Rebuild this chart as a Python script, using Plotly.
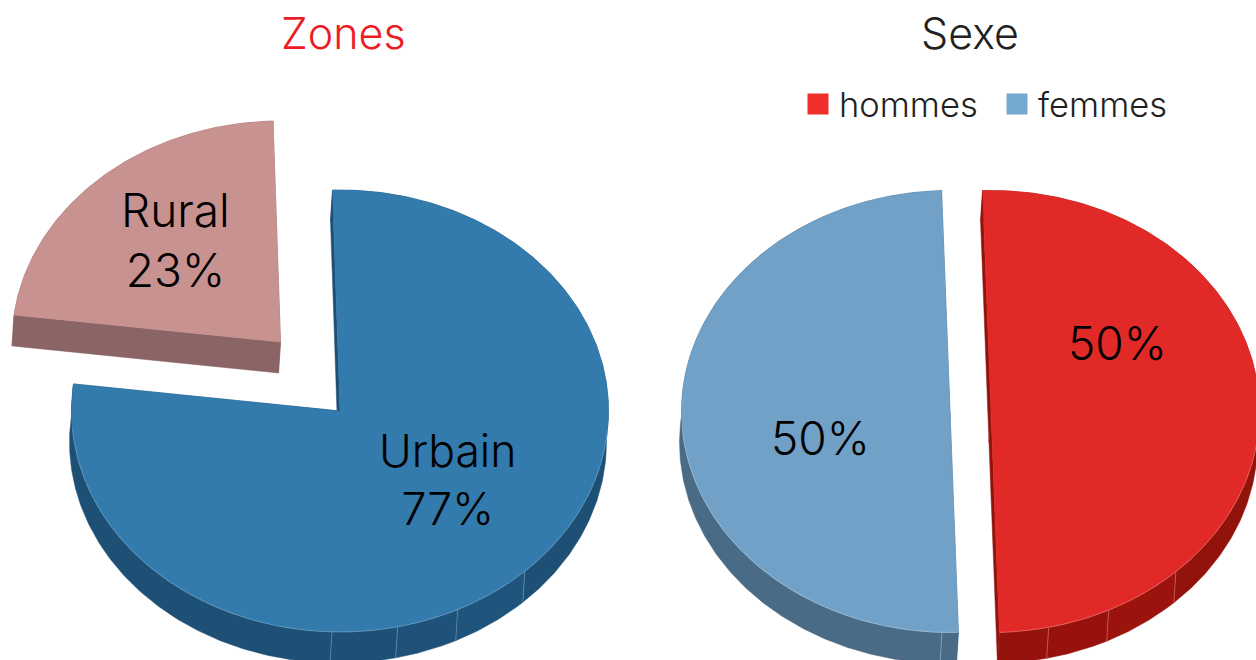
import math
import plotly.graph_objects as go

# ---- data (slice angles give 77.4 / 22.6, printed rounded)
zones_labels = ["Urbain", "Rural"]
zones_values = [77.4, 22.6]
sexe_labels = ["femmes", "hommes"]
sexe_values = [50, 50]
legend_labels = ["hommes", "femmes"]

# ---- drawing style
FONT = "Inter"
TOP = {"Urbain": "#337AAD", "Rural": "#C89290", "femmes": "#71A1C6", "hommes": "#E12A28"}
WALL = {"Urbain": "#1E4F75", "Rural": "#8B6565", "femmes": "#4A6B85", "hommes": "#92120C"}
RIM = {"Urbain": "#7FAED0", "Rural": "#D9B8B6", "femmes": "#B5CFE3", "hommes": "#EE8A88"}
LEGEND_COLORS = {"hommes": "#F0302D", "femmes": "#76A9D0"}
RX, RY = 268.5, 221
DX, DY = -2, 31
FACET_DEG = [181.7, 167.6, 154.0, 136.5]

# ---- pie layout: centre of each exploded slice, start angle clockwise from 12 o'clock
PIE_ZONES = {"start": -1.6, "centers": {"Urbain": (340, 411), "Rural": (280.5, 342)}}
PIE_SEXE = {"start": 178.2, "centers": {"femmes": (950, 411.5), "hommes": (991, 411.5)}}


def shade(hex_color, k):
    r, g, b = (int(hex_color[i:i + 2], 16) for i in (1, 3, 5))
    return "#%02X%02X%02X" % (min(255, int(r * k)), min(255, int(g * k)), min(255, int(b * k)))


def arc(cx, cy, a0, a1, n=None):
    n = n or max(2, int(abs(a1 - a0) * 1.5))
    pts = []
    for i in range(n + 1):
        t = math.radians(a0 + (a1 - a0) * i / n)
        pts.append((cx + RX * math.sin(t), cy - RY * math.cos(t)))
    return pts


fig = go.Figure()


def poly(pts, color, name):
    fig.add_trace(go.Scatter(
        x=[p[0] for p in pts] + [pts[0][0]], y=[p[1] for p in pts] + [pts[0][1]],
        mode="lines", fill="toself", fillcolor=color, line=dict(color=color, width=0.5),
        name=name, showlegend=False, hoverinfo="skip"))


def line(pts, color, width, name):
    fig.add_trace(go.Scatter(
        x=[p[0] for p in pts], y=[p[1] for p in pts], mode="lines",
        line=dict(color=color, width=width), name=name, showlegend=False, hoverinfo="skip"))


def draw_slice(label, cx, cy, a0, a1):
    wall, top, rim = WALL[label], TOP[label], RIM[label]
    # radial inner walls
    for a in (a0, a1):
        edge = arc(cx, cy, a, a, 1)[0]
        poly([(cx, cy), edge, (edge[0] + DX, edge[1] + DY), (cx + DX, cy + DY)], wall, label)
    # outer wall, cut in facets
    cuts = sorted({a0, a1} | {f for f in FACET_DEG for f in [f + k * 360 for k in (-1, 0, 1)] if a0 < f < a1})
    for i in range(len(cuts) - 1):
        u, v = cuts[i], cuts[i + 1]
        mid = (u + v) / 2
        k = 1.0
        if 90 < mid % 360 < 190:
            k = 1 + 0.16 * max(0, 182 - mid % 360) / 92
        outer = arc(cx, cy, u, v)
        poly(outer + [(x + DX, y + DY) for x, y in reversed(outer)], shade(wall, k), label)
    for f in FACET_DEG:
        for g in (f - 360, f, f + 360):
            if a0 < g < a1:
                e = arc(cx, cy, g, g, 1)[0]
                line([e, (e[0] + DX, e[1] + DY)], rim, 0.5, label)
    # top face
    poly([(cx, cy)] + arc(cx, cy, a0, a1), top, label)
    # light rim on the near side
    for off in (0, 360, -360):
        l, h = max(a0, 95 + off), min(a1, 265 + off)
        if l < h:
            line(arc(cx, cy, l, h), rim, 0.5, label)


def draw_pie(labels, values, pie):
    a = pie["start"]
    total = sum(values)
    for lab, val in zip(labels, values):
        sweep = 360 * val / total
        cx, cy = pie["centers"][lab]
        draw_slice(lab, cx, cy, a, a + sweep)
        a += sweep


draw_pie(zones_labels, zones_values, PIE_ZONES)
draw_pie(sexe_labels, sexe_values, PIE_SEXE)

# legend entries
for lab in legend_labels:
    fig.add_trace(go.Scatter(
        x=[None], y=[None], mode="markers", name=lab, showlegend=True,
        marker=dict(symbol="square", size=16, color=LEGEND_COLORS[lab],
                    line=dict(color=LEGEND_COLORS[lab], width=5))))

ann = []
for text, x, y, size, color in [
    ("Zones", 343, 33, 43, "#ED1C24"),
    ("Sexe", 970, 33, 43, "#231F20"),
    (f"{zones_labels[1]}<br>{round(zones_values[1])}%", 175, 240, 46, "#000000"),
    (f"{zones_labels[0]}<br>{round(zones_values[0])}%", 447, 480, 44.5, "#000000"),
    (f"{sexe_values[1]}%", 1117, 343, 46, "#000000"),
    (f"{sexe_values[0]}%", 820, 438, 46, "#000000"),
]:
    ann.append(dict(text=text, x=x, y=y, xref="x", yref="y", showarrow=False,
                    font=dict(family=FONT, size=size, color=color, weight=300)))

fig.update_layout(
    width=1256, height=660, margin=dict(l=0, r=0, t=0, b=0),
    paper_bgcolor="white", plot_bgcolor="white", annotations=ann,
    xaxis=dict(range=[0, 1256], visible=False, fixedrange=True),
    yaxis=dict(range=[660, 0], visible=False, fixedrange=True),
    showlegend=True,
    legend=dict(orientation="h", x=797 / 1256, y=1 - 75 / 660, xanchor="left", yanchor="top",
                font=dict(family=FONT, size=34.5, color="#231F20", weight=300),
                itemwidth=32, entrywidth=152, entrywidthmode="pixels",
                bgcolor="rgba(0,0,0,0)", itemclick=False, itemdoubleclick=False),
)

fig.write_html("out.html", post_script='document.body.style.margin="0";document.body.style.overflow="hidden";',
               config={"displayModeBar": False})
